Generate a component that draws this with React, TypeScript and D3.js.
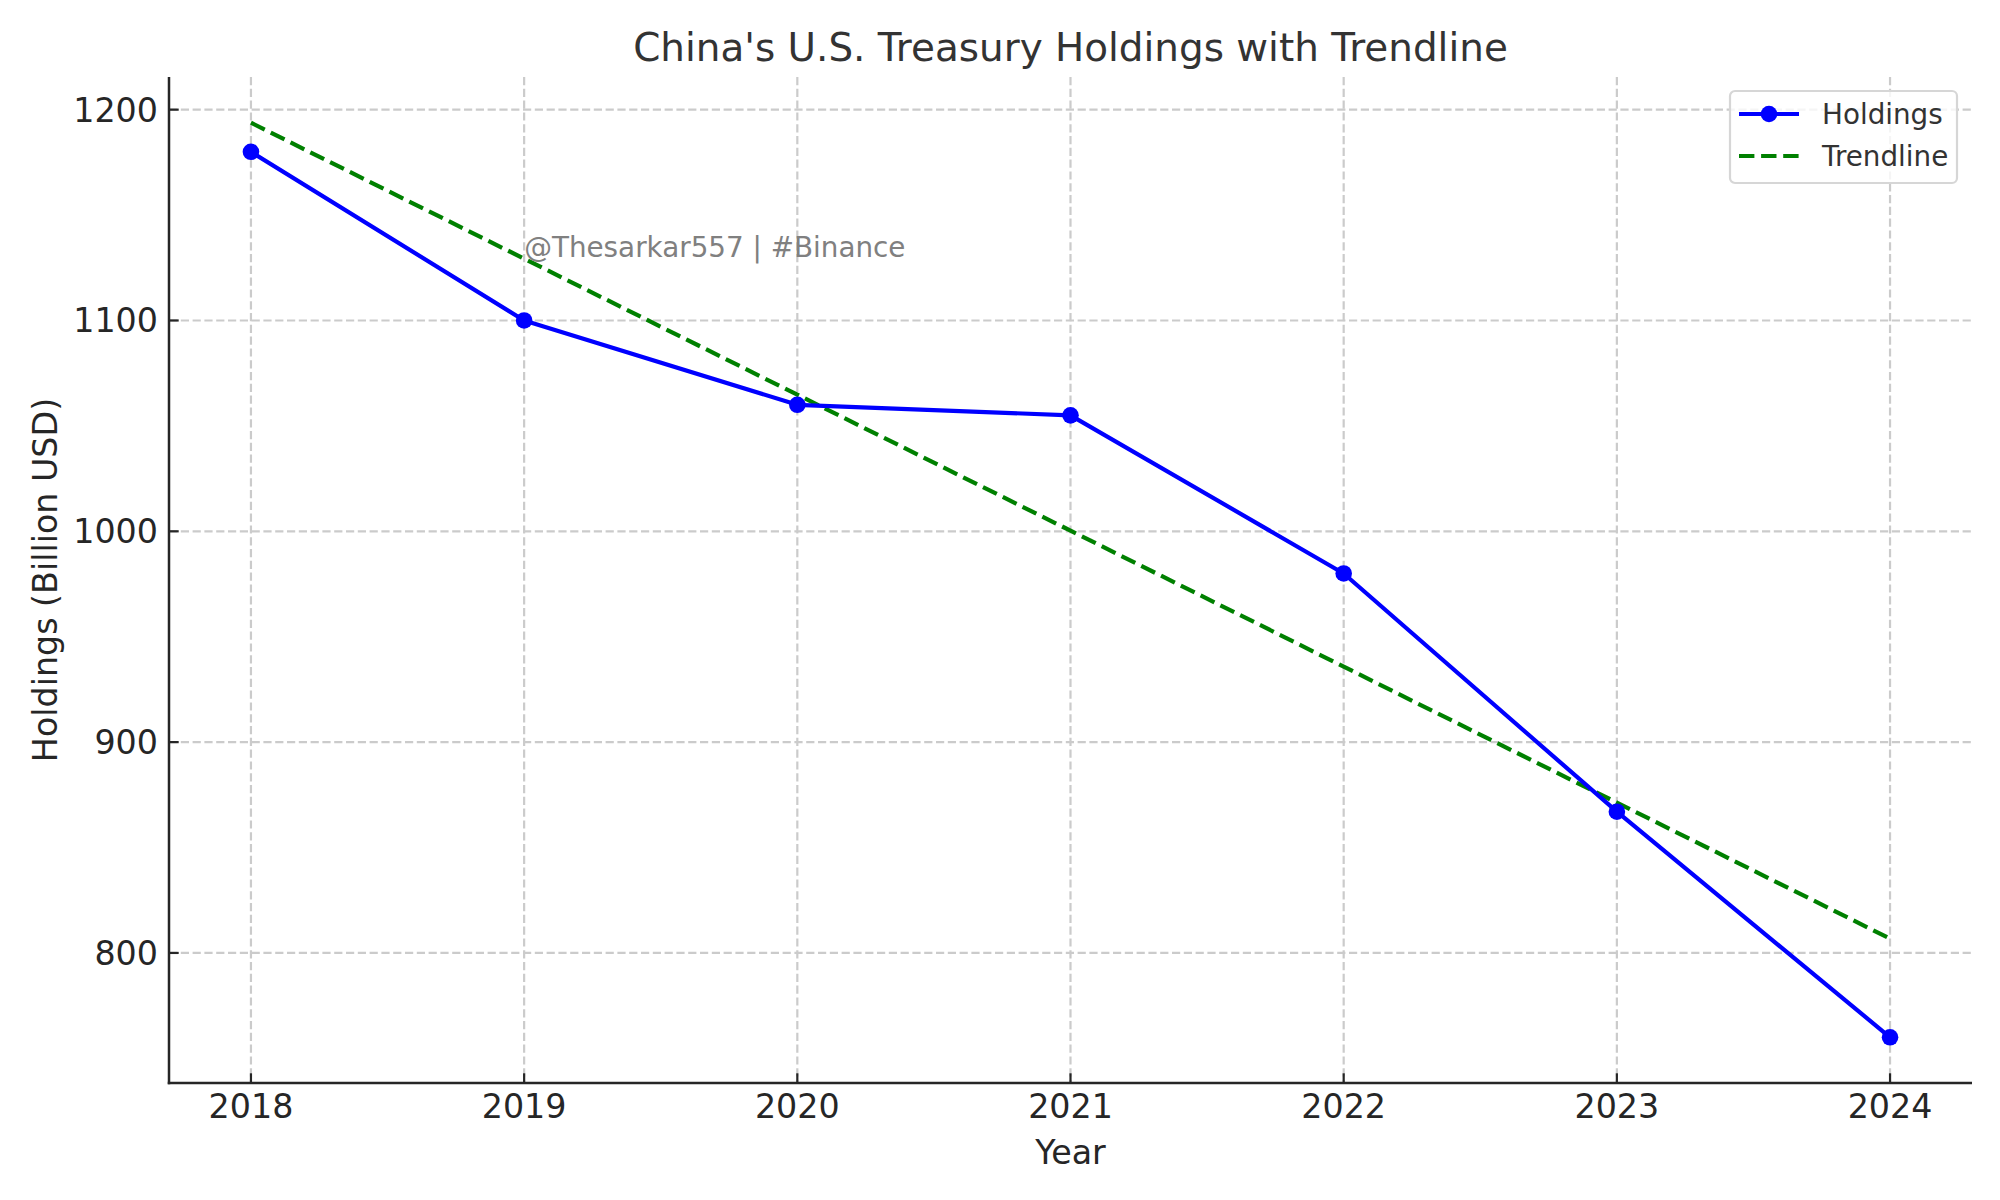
import React, { useEffect, useRef } from "react";
import * as d3 from "d3";

const years = [2018, 2019, 2020, 2021, 2022, 2023, 2024];
const holdings = [1180, 1100, 1060, 1055, 980, 867, 760];
const trendline = [1193.8, 1129.3, 1064.8, 1000.3, 935.8, 871.3, 806.8];
const yTicks = [800, 900, 1000, 1100, 1200];
const watermark = { year: 2019, value: 1130, text: "@Thesarkar557 | #Binance" };

const WIDTH = 2000;
const HEIGHT = 1200;
const margin = { top: 77, right: 28, bottom: 117, left: 169 };
const FONT = "DejaVu Sans, Verdana, sans-serif";

const App = () => {
  const ref = useRef<SVGSVGElement>(null);

  useEffect(() => {
    document.body.style.margin = "0";
    const svg = d3.select(ref.current);
    svg.selectAll("*").remove();

    const x0 = margin.left;
    const x1 = WIDTH - margin.right;
    const y0 = HEIGHT - margin.bottom;
    const y1 = margin.top;

    // matplotlib-like 5% padding around the data
    const [xmin, xmax] = d3.extent(years) as [number, number];
    const allY = holdings.concat(trendline);
    const [ymin, ymax] = d3.extent(allY) as [number, number];
    const xPad = (xmax - xmin) * 0.05;
    const yPad = (ymax - ymin) * 0.05;

    const x = d3.scaleLinear().domain([xmin - xPad, xmax + xPad]).range([x0, x1]);
    const y = d3.scaleLinear().domain([ymin - yPad, ymax + yPad]).range([y0, y1]);

    const g = svg.append("g");

    // grid
    g.selectAll("line.vgrid")
      .data(years)
      .join("line")
      .attr("class", "vgrid")
      .attr("x1", (d) => x(d))
      .attr("x2", (d) => x(d))
      .attr("y1", y1)
      .attr("y2", y0)
      .attr("stroke", "#cbcbcb")
      .attr("stroke-width", 2.2)
      .attr("stroke-dasharray", "8.2,3.6");

    g.selectAll("line.hgrid")
      .data(yTicks)
      .join("line")
      .attr("class", "hgrid")
      .attr("x1", x0)
      .attr("x2", x1)
      .attr("y1", (d) => y(d))
      .attr("y2", (d) => y(d))
      .attr("stroke", "#cbcbcb")
      .attr("stroke-width", 2.2)
      .attr("stroke-dasharray", "8.2,3.6");

    // trendline
    const line = d3
      .line<number>()
      .x((d, i) => x(years[i]))
      .y((d) => y(d));

    g.append("path")
      .datum(trendline)
      .attr("d", line)
      .attr("fill", "none")
      .attr("stroke", "#008000")
      .attr("stroke-width", 4.2)
      .attr("stroke-dasharray", "15.4,6.7");

    // holdings
    g.append("path")
      .datum(holdings)
      .attr("d", line)
      .attr("fill", "none")
      .attr("stroke", "#0000ff")
      .attr("stroke-width", 4.2)
      .attr("stroke-linejoin", "round");

    g.selectAll("circle.pt")
      .data(holdings)
      .join("circle")
      .attr("class", "pt")
      .attr("cx", (d, i) => x(years[i]))
      .attr("cy", (d) => y(d))
      .attr("r", 8.3)
      .attr("fill", "#0000ff");

    // watermark
    g.append("text")
      .attr("x", x(watermark.year))
      .attr("y", y(watermark.value))
      .attr("fill", "#808080")
      .style("font-family", FONT)
      .style("font-size", "27.8px")
      .text(watermark.text);

    // spines
    g.append("line")
      .attr("x1", x0)
      .attr("x2", x0)
      .attr("y1", y1)
      .attr("y2", y0 + 1.25)
      .attr("stroke", "#262626")
      .attr("stroke-width", 2.5);
    g.append("line")
      .attr("x1", x0 - 1.25)
      .attr("x2", x1)
      .attr("y1", y0)
      .attr("y2", y0)
      .attr("stroke", "#262626")
      .attr("stroke-width", 2.5);

    // x ticks
    const xt = g.selectAll("g.xt").data(years).join("g").attr("class", "xt");
    xt.append("line")
      .attr("x1", (d) => x(d))
      .attr("x2", (d) => x(d))
      .attr("y1", y0)
      .attr("y2", y0 - 9.7)
      .attr("stroke", "#262626")
      .attr("stroke-width", 2.2);
    xt.append("text")
      .attr("x", (d) => x(d))
      .attr("y", y0 + 35)
      .attr("text-anchor", "middle")
      .attr("fill", "#262626")
      .style("font-family", FONT)
      .style("font-size", "33.3px")
      .text((d) => String(d));

    // y ticks
    const yt = g.selectAll("g.yt").data(yTicks).join("g").attr("class", "yt");
    yt.append("line")
      .attr("x1", x0)
      .attr("x2", x0 + 9.7)
      .attr("y1", (d) => y(d))
      .attr("y2", (d) => y(d))
      .attr("stroke", "#262626")
      .attr("stroke-width", 2.2);
    yt.append("text")
      .attr("x", x0 - 11)
      .attr("y", (d) => y(d) + 12)
      .attr("text-anchor", "end")
      .attr("fill", "#262626")
      .style("font-family", FONT)
      .style("font-size", "33.3px")
      .text((d) => String(d));

    // axis labels & title
    g.append("text")
      .attr("x", (x0 + x1) / 2)
      .attr("y", 1164)
      .attr("text-anchor", "middle")
      .attr("fill", "#262626")
      .style("font-family", FONT)
      .style("font-size", "33.3px")
      .text("Year");

    g.append("text")
      .attr("transform", `translate(57 ${(y0 + y1) / 2}) rotate(-90)`)
      .attr("text-anchor", "middle")
      .attr("fill", "#262626")
      .style("font-family", FONT)
      .style("font-size", "33.3px")
      .text("Holdings (Billion USD)");

    g.append("text")
      .attr("x", (x0 + x1) / 2)
      .attr("y", 61)
      .attr("text-anchor", "middle")
      .attr("fill", "#333333")
      .style("font-family", FONT)
      .style("font-size", "38.9px")
      .text("China's U.S. Treasury Holdings with Trendline");

    // legend
    const lg = g.append("g").attr("transform", "translate(1730 91)");
    lg.append("rect")
      .attr("x", 0)
      .attr("y", 0)
      .attr("width", 227)
      .attr("height", 92)
      .attr("rx", 5)
      .attr("fill", "white")
      .attr("fill-opacity", 0.8)
      .attr("stroke", "#d6d6d6")
      .attr("stroke-width", 2.2);

    const items = [
      { label: "Holdings", color: "#0000ff", dash: null, marker: true },
      { label: "Trendline", color: "#008000", dash: "15.4,6.7", marker: false },
    ];
    const li = lg
      .selectAll("g.li")
      .data(items)
      .join("g")
      .attr("class", "li")
      .attr("transform", (d, i) => `translate(0 ${23 + i * 42})`);
    li.append("line")
      .attr("x1", 9)
      .attr("x2", 69)
      .attr("y1", 0)
      .attr("y2", 0)
      .attr("stroke", (d) => d.color)
      .attr("stroke-width", 4.2)
      .attr("stroke-dasharray", (d) => d.dash);
    li.filter((d) => d.marker)
      .append("circle")
      .attr("cx", 39)
      .attr("cy", 0)
      .attr("r", 8.3)
      .attr("fill", (d) => d.color);
    li.append("text")
      .attr("x", 92)
      .attr("y", 10)
      .attr("fill", "#333333")
      .style("font-family", FONT)
      .style("font-size", "27.8px")
      .text((d) => d.label);
  }, []);

  return <svg ref={ref} width={WIDTH} height={HEIGHT} style={{ display: "block", background: "white" }} />;
};

export default App;
